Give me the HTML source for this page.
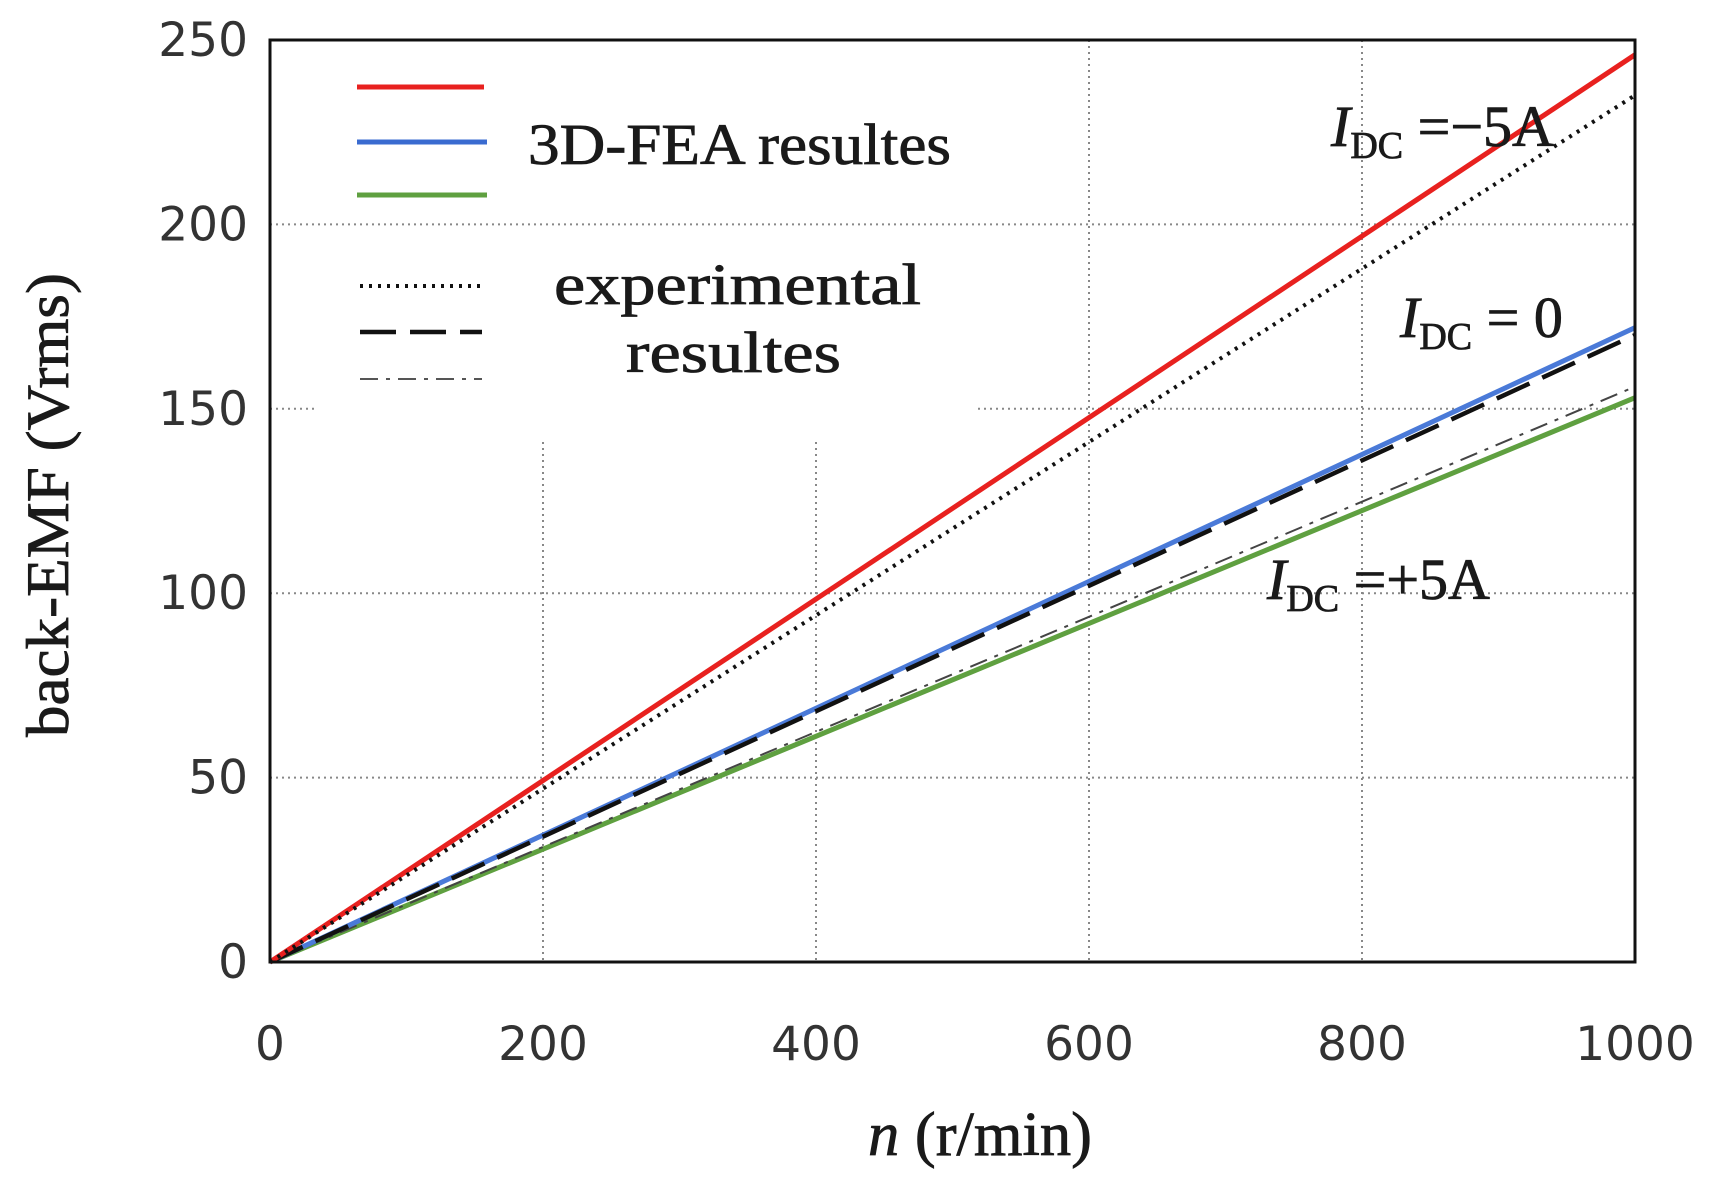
<!DOCTYPE html>
<html><head><meta charset="utf-8"><style>
body{margin:0;background:#fff}
svg{display:block}
text{font-family:"Liberation Serif",serif;fill:#1a1a1a;stroke:#1a1a1a;stroke-width:0.8}
.tick{font-family:"DejaVu Sans","Liberation Sans",sans-serif;font-size:47px;fill:#333;stroke:none}
</style></head><body>
<svg id="chart" width="1713" height="1183" viewBox="0 0 1713 1183" xmlns="http://www.w3.org/2000/svg">
<g id="grid"></g>
<g id="series"></g>
<rect x="270" y="40" width="1365" height="922" fill="none" stroke="#111" stroke-width="3"/>
<g id="ticks"></g>
<text x="980" y="1155" font-size="62" text-anchor="middle" textLength="224" lengthAdjust="spacingAndGlyphs"><tspan font-style="italic">n</tspan> (r/min)</text>
<text transform="translate(68,505) rotate(-90)" font-size="60" text-anchor="middle" textLength="464" lengthAdjust="spacingAndGlyphs">back-EMF (Vrms)</text>
<g>
<line x1="357" y1="87" x2="484" y2="87" stroke="#e8211f" stroke-width="5"/>
<line x1="357" y1="142" x2="487" y2="142" stroke="#3a6bd0" stroke-width="5"/>
<line x1="357" y1="195" x2="487" y2="195" stroke="#5fa040" stroke-width="5"/>
<text x="528" y="164" font-size="58" textLength="423" lengthAdjust="spacingAndGlyphs">3D-FEA resultes</text>
<line x1="360" y1="286" x2="482" y2="286" stroke="#111" stroke-width="4" stroke-dasharray="3,6"/>
<line x1="360" y1="332" x2="482" y2="332" stroke="#111" stroke-width="4.5" stroke-dasharray="36,14"/>
<line x1="360" y1="379" x2="482" y2="379" stroke="#555" stroke-width="2" stroke-dasharray="18,8,4,8"/>
<text x="554" y="304" font-size="58" textLength="367" lengthAdjust="spacingAndGlyphs">experimental</text>
<text x="626" y="372" font-size="58" textLength="215" lengthAdjust="spacingAndGlyphs">resultes</text>
</g>
<text x="1331" y="146" font-size="58"><tspan font-style="italic">I</tspan><tspan font-size="38" dy="12">DC</tspan><tspan dy="-12"> =−5A</tspan></text>
<text x="1400" y="337" font-size="58"><tspan font-style="italic">I</tspan><tspan font-size="38" dy="12">DC</tspan><tspan dy="-12"> = 0</tspan></text>
<text x="1267" y="599" font-size="58"><tspan font-style="italic">I</tspan><tspan font-size="38" dy="12">DC</tspan><tspan dy="-12"> =+5A</tspan></text>
</svg>
<script>
const xTicks=[0,200,400,600,800,1000];
const yTicks=[0,50,100,150,200,250];
const xEnd=[0,1000];
const redVals=[0,246];
const dottedVals=[0,235];
const blueVals=[0,172];
const dashedVals=[0,170];
const dashdotVals=[0,156];
const greenVals=[0,153];
const L=270,R=1635,T=40,B=962;
const xs=v=>L+(v-0)/1000*(R-L);
const ys=v=>B-(v/250)*(B-T);
const NS='http://www.w3.org/2000/svg';
function mk(tag,attrs,parent){const e=document.createElementNS(NS,tag);for(const k in attrs)e.setAttribute(k,attrs[k]);parent.appendChild(e);return e;}
const grid=document.getElementById('grid'),ticks=document.getElementById('ticks'),ser=document.getElementById('series');
xTicks.forEach(t=>{
  if(t>0&&t<1000){const y0=(t<=400)?442:T;
    const g=mk('line',{x1:xs(t),x2:xs(t),y1:y0,y2:B,stroke:'#888','stroke-width':2,'stroke-dasharray':'2,4'},grid);
    
    }
  const tx=mk('text',{x:xs(t),y:1060,'text-anchor':'middle',class:'tick'},ticks);tx.textContent=t;
  
  
});
yTicks.forEach(t=>{
  if(t>0&&t<250){
    const segs=(t===150)?[[L,317],[978,R]]:[[L,R]];
    segs.forEach(s=>{const g=mk('line',{x1:s[0],x2:s[1],y1:ys(t),y2:ys(t),stroke:'#888','stroke-width':2,'stroke-dasharray':'2,4'},grid);
    
    });}
  const tx=mk('text',{x:248,y:ys(t)+16,'text-anchor':'end',class:'tick'},ticks);tx.textContent=t;
  
  
});
function line(vals,stroke,w,dash,name){
  const p=mk('polyline',{points:xEnd.map((x,i)=>xs(x)+','+ys(vals[i])).join(' '),fill:'none',stroke:stroke,'stroke-width':w},ser);
  if(dash)p.setAttribute('stroke-dasharray',dash);
  
  
}
line(greenVals,'#5fa040',5,null,'series-fea-plus5a');
line(dashdotVals,'#444',2,'18,8,4,8','series-exp-plus5a');
line(blueVals,'#4a7ad8',5,null,'series-fea-0');
line(dashedVals,'#111',4.5,'36,14','series-exp-0');
line(redVals,'#e8211f',5,null,'series-fea-minus5a');
line(dottedVals,'#111',4,'3,6','series-exp-minus5a');
</script>
</body></html>
